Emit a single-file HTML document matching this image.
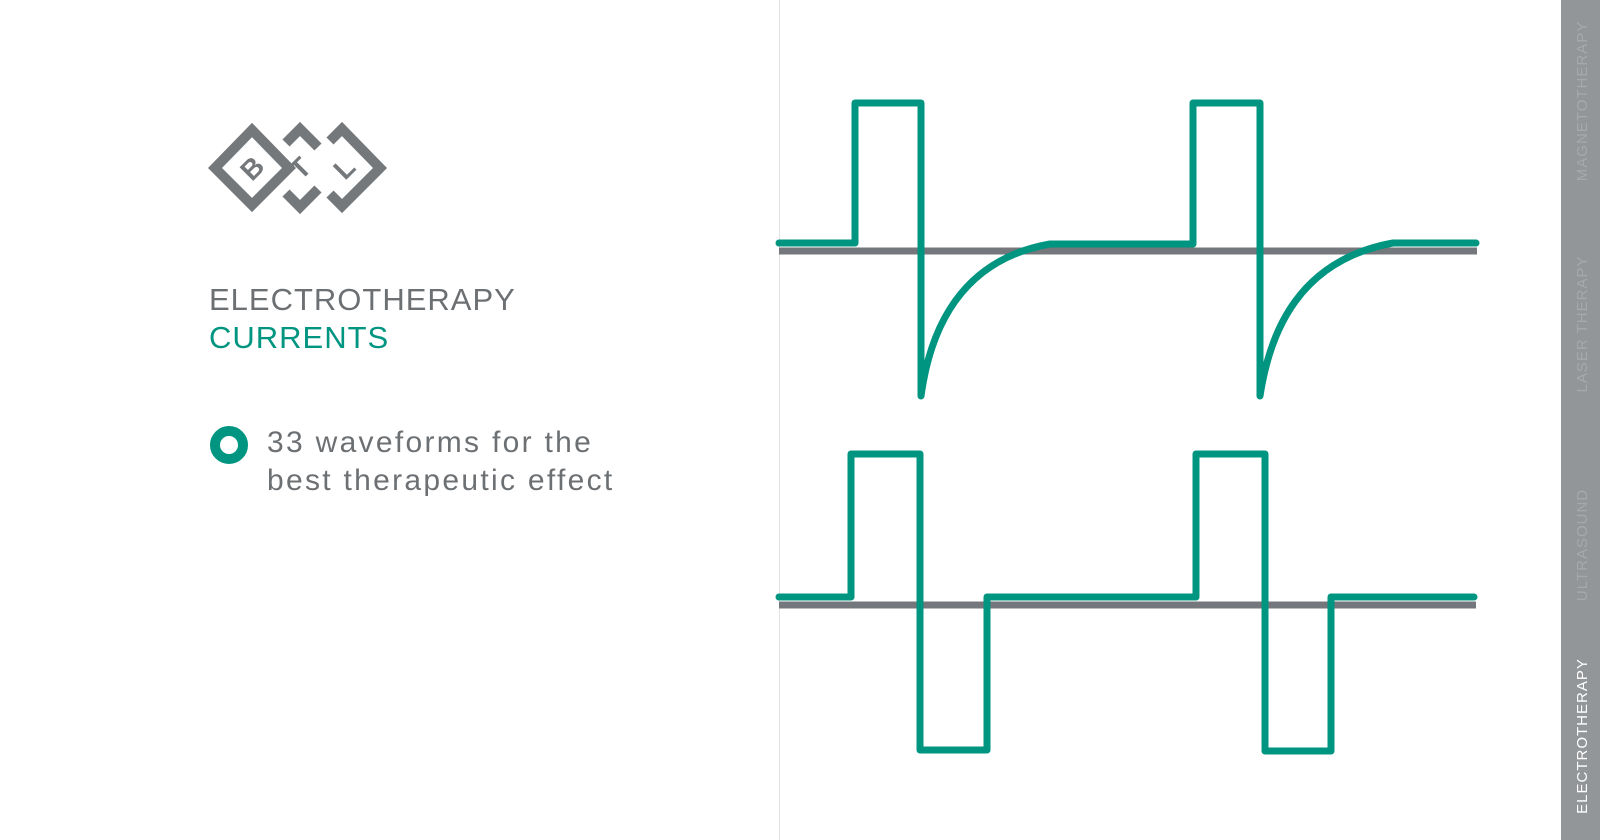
<!DOCTYPE html>
<html><head><meta charset="utf-8"><style>
body{margin:0;width:1600px;height:840px;background:#fff;overflow:hidden;position:relative;font-family:"Liberation Sans",sans-serif}
.t{position:absolute;white-space:nowrap}
</style></head><body>
<svg width="1600" height="840" style="position:absolute;left:0;top:0">
<line x1="779.5" y1="0" x2="779.5" y2="840" stroke="#e2e3e4" stroke-width="1"/>
<rect x="1561" y="0" width="39" height="840" fill="#939699"/>
<g fill="none" stroke="#75787b" stroke-width="10" stroke-linejoin="miter">
<polygon points="252,130 289,168 252,205 215,168"/>
<polyline points="286,143 300,129 318,147"/>
<polyline points="318,189 300,207 286,193"/>
<polyline points="330,141 342,129 380,168 342,206 330,194"/>
</g>
<g font-family="Liberation Sans" font-weight="bold" font-size="28" fill="#75787b" text-anchor="middle">
<text x="252" y="178" transform="rotate(-45 252 168)">B</text>
<text x="300" y="178" transform="rotate(-45 300 168)">T</text>
<text x="344" y="178" transform="rotate(-45 344 168)">L</text>
</g>
<g stroke="#74777b" stroke-width="7">
<line x1="779" y1="251" x2="1477" y2="251"/>
<line x1="779" y1="605" x2="1476" y2="605"/>
</g>
<g fill="none" stroke="#009580" stroke-width="7" stroke-linejoin="round" stroke-linecap="round">
<path d="M779,243 H855 V103 H921 V396 C930,330 960,260 1050,244 H1193 V103 H1260 V396 C1270,330 1300,260 1393,243 H1476"/>
<path d="M779,597 H851 V454 H920 V750 H987 V597 H1196 V454 H1265 V751 H1331 V597 H1474"/>
</g>
<circle cx="229" cy="445" r="14" fill="none" stroke="#009580" stroke-width="10"/>
<g font-family="Liberation Sans" font-size="15" fill="#a6a9ac" text-anchor="middle" letter-spacing="1">
<text transform="translate(1587,101) rotate(-90)">MAGNETOTHERAPY</text>
<text transform="translate(1587,324) rotate(-90)">LASER THERAPY</text>
<text transform="translate(1587,545) rotate(-90)">ULTRASOUND</text>
<text transform="translate(1587,736) rotate(-90)" fill="#fff">ELECTROTHERAPY</text>
</g>
</svg>
<div class="t" style="left:209px;top:282px;font-size:31px;color:#6d7073;letter-spacing:1px">ELECTROTHERAPY</div>
<div class="t" style="left:209px;top:320px;font-size:31px;color:#009580;letter-spacing:1px">CURRENTS</div>
<div class="t" style="left:267px;top:424px;font-size:30px;line-height:38px;color:#6d7073;letter-spacing:2.3px">33 waveforms for the<br>best therapeutic effect</div>
</body></html>
